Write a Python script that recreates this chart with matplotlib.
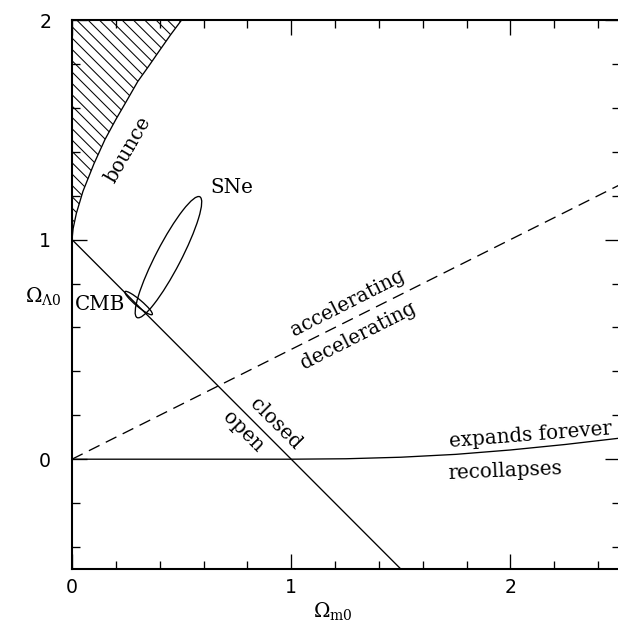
import matplotlib
matplotlib.use("Agg")
import matplotlib.pyplot as plt
from matplotlib.patches import Ellipse
from matplotlib.ticker import MultipleLocator

# --- datos ---
# borde "bounce" (sin big bang), de (0,1) hasta y=2
bounce_om = [0.0, 0.005, 0.02, 0.05, 0.10, 0.15, 0.20, 0.25, 0.30, 0.35, 0.40, 0.45, 0.50]
bounce_ol = [1.0, 1.05, 1.12, 1.22, 1.345, 1.455, 1.547, 1.633, 1.72, 1.79, 1.862, 1.933, 2.0]

# frontera expande / recolapsa
recol_om = [0.0, 1.0, 1.25, 1.5, 1.75, 2.0, 2.25, 2.5]
recol_ol = [0.0, 0.0, 0.002, 0.009, 0.022, 0.042, 0.067, 0.096]

# universo plano (abierto / cerrado)
flat_om = [0.0, 1.5]
flat_ol = [1.0, -0.5]

# acelera / desacelera
acc_om = [0.0, 2.5]
acc_ol = [0.0, 1.25]

# elipses de confianza: centro, semiejes, angulo
sne_center = (0.44, 0.92)
sne_axes = (0.31, 0.057)
sne_angle = 62.5
cmb_center = (0.304, 0.711)
cmb_axes = (0.081, 0.015)
cmb_angle = -40.0

xticks = [0, 1, 2]
yticks = [0, 1, 2]

DPI = 136
plt.rcParams['hatch.linewidth'] = 0.55
plt.rcParams['lines.scale_dashes'] = False
plt.rcParams['mathtext.fontset'] = 'dejavuserif'

fig = plt.figure(figsize=(618 / DPI, 629 / DPI), dpi=DPI)
ax = fig.add_axes([72 / 618, 60 / 629, 548 / 618, 549 / 629])

lw = 0.7
# rayado de la zona prohibida
ax.fill_between(bounce_om, bounce_ol, 2.0, facecolor='none', edgecolor='black',
                hatch='\\\\\\\\', linewidth=0)
ax.plot(bounce_om, bounce_ol, color='black', lw=lw)
ax.plot(recol_om, recol_ol, color='black', lw=lw)
ax.plot(flat_om, flat_ol, color='black', lw=lw)
ax.plot(acc_om, acc_ol, color='black', lw=lw, dashes=(6.3, 3.7))

for c, (a, b), ang in [(sne_center, sne_axes, sne_angle), (cmb_center, cmb_axes, cmb_angle)]:
    ax.add_patch(Ellipse(c, 2 * a, 2 * b, angle=ang, fill=False, edgecolor='black', lw=lw))

fs = 10.5
txt = dict(family='DejaVu Serif', fontsize=fs, ha='center', va='center',
           rotation_mode='anchor')
ax.text(0.256, 1.409, 'bounce', rotation=60, **txt)
ax.text(0.63, 1.236, 'SNe', family='DejaVu Serif', fontsize=fs, ha='left', va='center')
ax.text(0.128, 0.705, 'CMB', family='DejaVu Serif', fontsize=fs, ha='center', va='center')
ax.text(1.258, 0.711, 'accelerating', rotation=27, **txt)
ax.text(1.308, 0.561, 'decelerating', rotation=27, **txt)
ax.text(0.927, 0.159, 'closed', rotation=-45, **txt)
ax.text(0.78, 0.127, 'open', rotation=-45, **txt)
ax.text(2.09, 0.109, 'expands forever', rotation=4.5, **txt)
ax.text(1.977, -0.055, 'recollapses', rotation=2.5, **txt)

ax.set_xlim(0, 2.5)
ax.set_ylim(-0.5, 2)
ax.set_xticks(xticks)
ax.set_yticks(yticks)
ax.xaxis.set_minor_locator(MultipleLocator(0.2))
ax.yaxis.set_minor_locator(MultipleLocator(0.2))
ax.tick_params(which='both', direction='in', top=True, right=True, width=0.7)
ax.tick_params(which='major', length=7.9)
ax.tick_params(which='minor', length=4.2)
ax.tick_params(axis='x', pad=5, labelsize=10)
ax.tick_params(axis='y', pad=11, labelsize=10)
for s in ax.spines.values():
    s.set_linewidth(1.1)

ax.text(0.476, -0.078, r'$\Omega_{\rm m0}$', transform=ax.transAxes,
        fontsize=10.5, ha='center', va='center')
ax.text(-0.052, 0.495, r'$\Omega_{\Lambda 0}$', transform=ax.transAxes,
        fontsize=10.5, ha='center', va='center')

fig.savefig('out.png', dpi=DPI)
